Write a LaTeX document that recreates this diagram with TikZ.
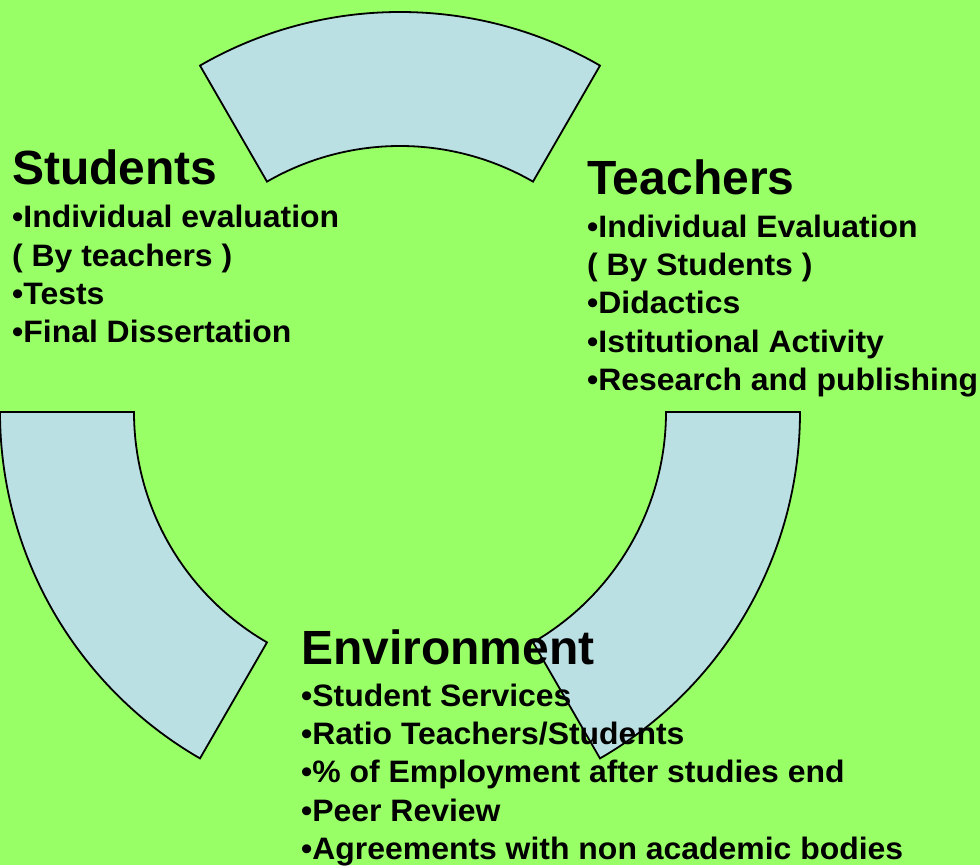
\documentclass[tikz,border=0pt]{standalone}
\usepackage{fontspec}
\setmainfont{Liberation Sans}
\newfontfamily\bodyfont[FakeStretch=1.03]{Liberation Sans}
\begin{document}
\begin{tikzpicture}[x=1pt,y=1pt,
  seg/.style={draw=black,line width=1.8pt,fill=segblue,line join=miter},
  ttl/.style={anchor=base west,inner sep=0pt,font=\fontsize{48}{50}\selectfont\bfseries},
  itm/.style={anchor=base west,inner sep=0pt,font=\bodyfont\fontsize{31}{34}\selectfont\bfseries}]
\definecolor{bggreen}{HTML}{99FF66}
\definecolor{segblue}{HTML}{BBE0E3}
\fill[bggreen] (0,0) rectangle (980,865);
\useasboundingbox (0,0) rectangle (980,865);
\coordinate (C) at (400,453);
% top segment
\draw[seg] ([shift={(60:400)}]C) arc[start angle=60,end angle=120,radius=400]
  -- ([shift={(120:266)}]C) arc[start angle=120,end angle=60,radius=266] -- cycle;
% left segment
\draw[seg] ([shift={(180:400)}]C) arc[start angle=180,end angle=240,radius=400]
  -- ([shift={(240:266)}]C) arc[start angle=240,end angle=180,radius=266] -- cycle;
% right segment
\draw[seg] ([shift={(300:400)}]C) arc[start angle=300,end angle=360,radius=400]
  -- ([shift={(360:266)}]C) arc[start angle=360,end angle=300,radius=266] -- cycle;
% Students
\node[ttl] (st) at (12,680) {Students};
\node[itm] (s1) at (12,637) {•Individual evaluation};
\node[itm] (s2) at (12,598) {( By teachers )};
\node[itm] (s3) at (12,560) {•Tests};
\node[itm] (s4) at (12,522) {•Final Dissertation};
% Teachers
\node[ttl] (tt) at (587,670) {Teachers};
\node[itm] (t1) at (587,627) {•Individual Evaluation};
\node[itm] (t2) at (587,589) {( By Students )};
\node[itm] (t3) at (587,551) {•Didactics};
\node[itm] (t4) at (587,512) {•Istitutional Activity};
\node[itm] (t5) at (587,474) {•Research and publishing};
% Environment
\node[ttl] (et) at (301,200) {Environment};
\node[itm] (e1) at (301,158) {•Student Services};
\node[itm] (e2) at (301,120) {•Ratio Teachers/Students};
\node[itm] (e3) at (301,82) {•\% of Employment after studies end};
\node[itm] (e4) at (301,43) {•Peer Review};
\node[itm] (e5) at (301,6) {•Agreements with non academic bodies};
\end{tikzpicture}
\end{document}
